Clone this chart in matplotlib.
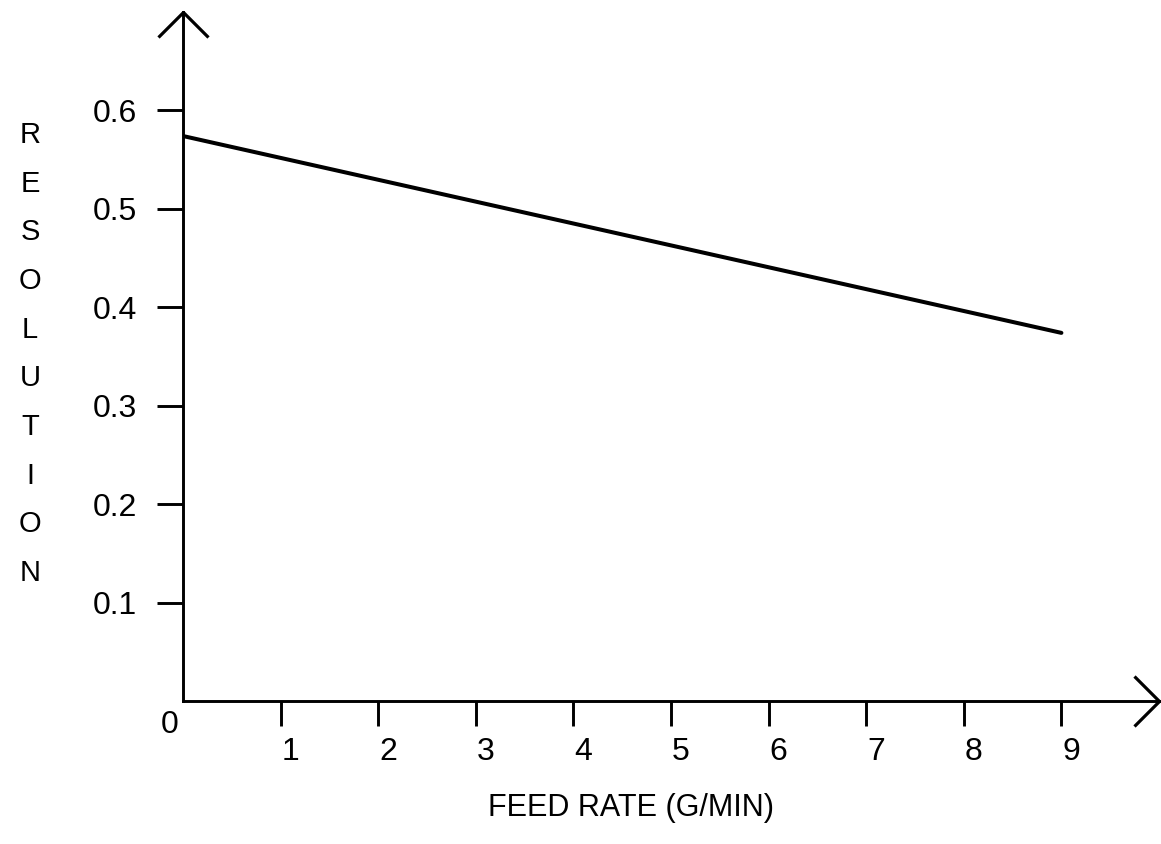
import matplotlib
matplotlib.use('agg')
import matplotlib.pyplot as plt
from matplotlib.path import Path
from matplotlib.transforms import ScaledTranslation

plt.rcParams['font.family'] = ['Liberation Sans', 'DejaVu Sans']

# feed rate (g/min) vs resolution, straight-line fit
feed_rate = [0, 9]
resolution = [0.574, 0.374]

x_ticks = [1, 2, 3, 4, 5, 6, 7, 8, 9]
y_ticks = [0.1, 0.2, 0.3, 0.4, 0.5, 0.6]
y_tick_labels = ['0.1', '0.2', '0.3', '0.4', '0.5', '0.6']

fig = plt.figure(figsize=(11.61, 8.44), dpi=100)
ax = fig.add_axes([183 / 1161, 143 / 844, 976 / 1161, 689 / 844])
ax.set_xlim(0, 10)
ax.set_ylim(0, 0.70)

ax.plot(feed_rate, resolution, color='black', lw=2.9, solid_capstyle='round')

# axes as plain black lines with open arrow heads at the ends
for side in ['top', 'right']:
    ax.spines[side].set_visible(False)
for side in ['left', 'bottom']:
    ax.spines[side].set_linewidth(2.1)

up_head = Path([(-1, -1), (0, 0), (1, -1)], [Path.MOVETO, Path.LINETO, Path.LINETO])
right_head = Path([(-1, 1), (0, 0), (-1, -1)], [Path.MOVETO, Path.LINETO, Path.LINETO])
ax.plot([0], [0.70], marker=up_head, ms=36, mfc='none', mec='black', mew=2.3,
        clip_on=False)
ax.plot([10], [0], marker=right_head, ms=36, mfc='none', mec='black', mew=2.3,
        clip_on=False)

ax.set_xticks(x_ticks)
ax.set_xticklabels([str(t) for t in x_ticks])
ax.set_yticks(y_ticks)
ax.set_yticklabels(y_tick_labels)
ax.tick_params(axis='both', direction='out', width=2.1, labelsize=23)
ax.tick_params(axis='y', length=19, pad=14)
ax.tick_params(axis='x', length=18, pad=8)
shift = ScaledTranslation(10 / 100, 0, fig.dpi_scale_trans)
for lab in ax.get_xticklabels():
    lab.set_transform(lab.get_transform() + shift)

ax.annotate('0', xy=(0, 0), xytext=(-13, -24), textcoords='offset pixels',
            ha='center', va='center', fontsize=23, annotation_clip=False)

fig.text(30 / 1161, 1 - 354 / 844, '\n'.join('RESOLUTION'), ha='center', va='center',
         fontsize=21, linespacing=1.94)
fig.text(631 / 1161, 1 - 808 / 844, 'FEED RATE (G/MIN)', ha='center', va='center',
         fontsize=22)

fig.savefig('out.png', dpi=100, facecolor='white')
